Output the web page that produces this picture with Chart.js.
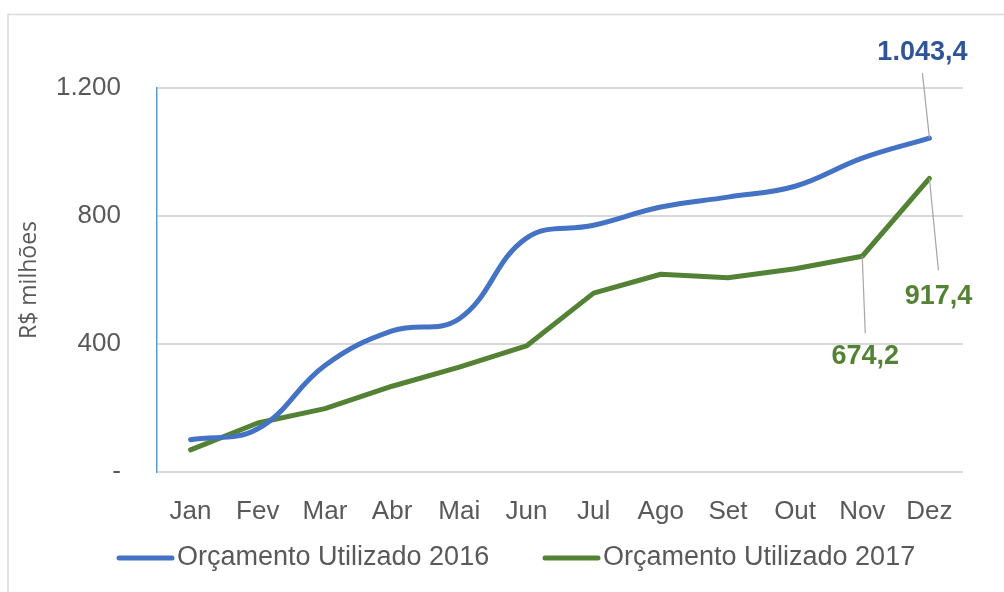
<!DOCTYPE html>
<html>
<head>
<meta charset="utf-8">
<script src="https://cdn.jsdelivr.net/npm/chart.js@4.4.0/dist/chart.umd.min.js"></script>
<style>
  html, body { margin: 0; padding: 0; background: #fff; }
  #wrap { width: 1004px; height: 592px; }
</style>
</head>
<body>
<div id="wrap"><canvas id="chart" width="1004" height="592"></canvas></div>
<script>
const MONTHS = ["Jan", "Fev", "Mar", "Abr", "Mai", "Jun", "Jul", "Ago", "Set", "Out", "Nov", "Dez"];
const USED_2016 = [101, 135, 333, 441, 479, 731, 771, 828, 859, 893, 981, 1043.4];
const USED_2017 = [69, 153, 198, 268, 328, 394, 559, 618, 607, 635, 674.2, 917.4];
const SERIES_NAMES = ["Orçamento Utilizado 2016", "Orçamento Utilizado 2017"];
const Y_TICKS = [0, 400, 800, 1200];

const FONT = "'Liberation Sans', Arial, sans-serif";
const GREY_TEXT = "#595959";
const BLUE = "#4472C4";
const GREEN = "#548235";

// which points get a value label, and where the label sits relative to the point
const CALLOUTS = [
    {ds: 0, idx: 11, dx: -7, dy: -86, lineDy: -65, color: "#2F5597"},
    {ds: 1, idx: 11, dx: 9, dy: 118, lineDy: 92, color: GREEN},
    {ds: 1, idx: 10, dx: 3, dy: 100, lineDy: 77, color: GREEN},
];

function fmtNum(v, decimals) {
    const parts = v.toFixed(decimals).split(".");
    parts[0] = parts[0].replace(/\B(?=(\d{3})+(?!\d))/g, ".");
    return parts.join(",");
}

const chartFrame = {
    id: "chartFrame",
    beforeDraw(chart) {
        const {ctx} = chart;
        ctx.save();
        ctx.strokeStyle = "#D9D9D9";
        ctx.lineWidth = 1.5;
        ctx.strokeRect(8, 14.5, 1100, 700);
        ctx.restore();
    },
};

const calloutLabels = {
    id: "calloutLabels",
    afterDatasetsDraw(chart) {
        const {ctx} = chart;
        ctx.save();
        CALLOUTS.forEach((c) => {
            const pt = chart.getDatasetMeta(c.ds).data[c.idx];
            const value = chart.data.datasets[c.ds].data[c.idx];
            ctx.strokeStyle = "#A6A6A6";
            ctx.lineWidth = 1.2;
            ctx.beginPath();
            ctx.moveTo(pt.x + c.dx, pt.y + c.lineDy);
            ctx.lineTo(pt.x, pt.y);
            ctx.stroke();
            ctx.font = "bold 27px " + FONT;
            ctx.fillStyle = c.color;
            ctx.textAlign = "center";
            ctx.textBaseline = "middle";
            ctx.fillText(fmtNum(value, 1), pt.x + c.dx, pt.y + c.dy);
        });
        ctx.restore();
    },
};

// Excel-style legend: short line sample, text right after it
const lineLegend = {
    id: "lineLegend",
    afterDraw(chart) {
        const {ctx} = chart;
        const y = 558;
        const starts = [117, 543];
        ctx.save();
        ctx.font = "27px " + FONT;
        ctx.textBaseline = "middle";
        ctx.textAlign = "left";
        chart.data.datasets.forEach((ds, i) => {
            const x = starts[i];
            ctx.strokeStyle = ds.borderColor;
            ctx.lineWidth = 5;
            ctx.lineCap = "round";
            ctx.beginPath();
            ctx.moveTo(x + 2, y);
            ctx.lineTo(x + 55, y);
            ctx.stroke();
            ctx.fillStyle = GREY_TEXT;
            ctx.fillText(ds.label, x + 60, y);
        });
        ctx.restore();
    },
};

new Chart(document.getElementById("chart"), {
    type: "line",
    data: {
        labels: MONTHS,
        datasets: [
            {
                label: SERIES_NAMES[0],
                data: USED_2016,
                borderColor: BLUE,
                borderWidth: 5,
                tension: 0.4,
                pointRadius: 0,
                borderCapStyle: "round",
                borderJoinStyle: "round",
            },
            {
                label: SERIES_NAMES[1],
                data: USED_2017,
                borderColor: GREEN,
                borderWidth: 5,
                tension: 0,
                pointRadius: 0,
                borderCapStyle: "round",
                borderJoinStyle: "round",
            },
        ],
    },
    options: {
        responsive: false,
        animation: false,
        layout: {
            padding: {top: 88, right: 41, left: 8, bottom: 60},
        },
        plugins: {
            legend: {display: false},
            tooltip: {enabled: false},
        },
        scales: {
            x: {
                offset: true,
                grid: {display: false},
                border: {display: false},
                ticks: {
                    color: GREY_TEXT,
                    font: {family: FONT, size: 26},
                    padding: 16,
                    maxRotation: 0,
                    autoSkip: false,
                },
                afterFit(scale) {
                    scale.height = 60;
                },
            },
            y: {
                min: 0,
                max: 1200,
                afterBuildTicks(scale) {
                    scale.ticks = Y_TICKS.map((v) => ({value: v}));
                },
                grid: {
                    color: "#D9D9D9",
                    lineWidth: 2,
                    drawTicks: false,
                },
                border: {color: "#5B9BD5", width: 1.5},
                ticks: {
                    color: GREY_TEXT,
                    font: {family: FONT, size: 26},
                    padding: 36,
                    callback: (v) => (v === 0 ? "-" : fmtNum(v, 0)),
                },
                title: {
                    display: true,
                    text: "R$ milhões",
                    color: GREY_TEXT,
                    font: {family: "'Open Sans', sans-serif", size: 23},
                    padding: {top: 8, bottom: 0},
                },
                afterFit(scale) {
                    scale.width = 149;
                },
            },
        },
    },
    plugins: [chartFrame, calloutLabels, lineLegend],
});
</script>
</body>
</html>
